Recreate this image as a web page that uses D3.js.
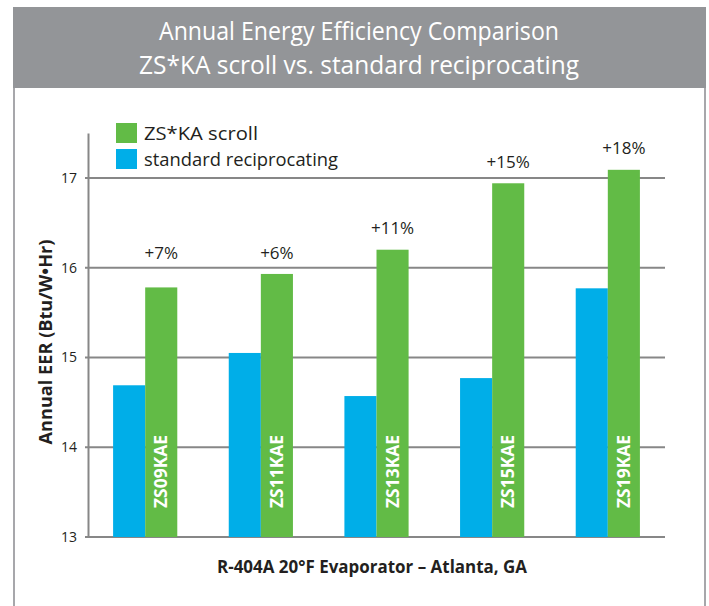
<!DOCTYPE html>
<html>
<head>
<meta charset="utf-8">
<script src="https://cdn.jsdelivr.net/npm/d3@7"></script>
<style>
  body { margin: 0; background: #fff; }
  svg { display: block; font-family: "Open Sans", "Noto Sans", sans-serif; }
</style>
</head>
<body>
<div id="chart"></div>
<script>
// Data
const models = ["ZS09KAE", "ZS11KAE", "ZS13KAE", "ZS15KAE", "ZS19KAE"];
const scrollEER = [15.78, 15.93, 16.2, 16.94, 17.09];
const recipEER = [14.69, 15.05, 14.57, 14.77, 15.77];
const gainLabels = ["+7%", "+6%", "+11%", "+15%", "+18%"];
const labelEER = [16.1, 16.1, 16.38, 17.11, 17.27]; // where the % labels sit
const yTicks = [13, 14, 15, 16, 17];

const width = 709;
const height = 606;
const plot = { left: 88, right: 665, top: 133, bottom: 537 };

const green = "#62bb46";
const blue = "#00aee8";
const grid = "#878787";

const svg = d3
  .select("#chart")
  .append("svg")
  .attr("width", width)
  .attr("height", height);

// Frame and header
svg.append("rect")
  .attr("x", 14).attr("y", 8).attr("width", 691).attr("height", 620)
  .attr("fill", "none").attr("stroke", "#a7a7ab").attr("stroke-width", 2);
svg.append("rect")
  .attr("x", 13).attr("y", 7).attr("width", 693).attr("height", 81)
  .attr("fill", "#939598");

const titles = [
  { text: "Annual Energy Efficiency Comparison", y: 40, len: 400 },
  { text: "ZS*KA scroll vs. standard reciprocating", y: 74, len: 440 },
];
svg.selectAll(".title")
  .data(titles)
  .enter()
  .append("text")
  .attr("class", "title")
  .attr("x", 359)
  .attr("y", (d) => d.y)
  .attr("text-anchor", "middle")
  .attr("fill", "#fff")
  .attr("font-size", "26px")
  .attr("textLength", (d) => d.len)
  .attr("lengthAdjust", "spacingAndGlyphs")
  .text((d) => d.text);

// Scales
const x = d3
  .scaleBand()
  .domain(models)
  .range([plot.left, plot.right])
  .paddingInner(0.445)
  .paddingOuter(0.217);

const sub = d3
  .scaleBand()
  .domain(["recip", "scroll"])
  .range([0, x.bandwidth()]);

const y = d3
  .scaleLinear()
  .domain([13, 17.5])
  .range([plot.bottom, plot.top]);

// Gridlines
svg.append("g")
  .selectAll("line")
  .data(yTicks)
  .enter()
  .append("line")
  .attr("x1", plot.left - 3)
  .attr("x2", plot.right)
  .attr("y1", (d) => y(d))
  .attr("y2", (d) => y(d))
  .attr("stroke", grid)
  .attr("stroke-width", 2);

// Y axis
const yAxis = svg.append("g")
  .attr("transform", `translate(${plot.left},0)`)
  .call(d3.axisLeft(y).tickValues(yTicks).tickFormat(d3.format("d")).tickSize(0).tickPadding(11));
yAxis.select(".domain").attr("stroke", grid).attr("stroke-width", 2);
yAxis.selectAll("text")
  .attr("font-family", "'Open Sans', sans-serif")
  .attr("font-size", "14px")
  .attr("fill", "#231f20");

// Bars
const groups = svg.append("g")
  .selectAll("g")
  .data(models)
  .enter()
  .append("g")
  .attr("transform", (d) => `translate(${x(d)},0)`);

groups.append("rect")
  .attr("x", sub("recip"))
  .attr("y", (d, i) => y(recipEER[i]))
  .attr("width", sub.bandwidth())
  .attr("height", (d, i) => y(13) - y(recipEER[i]))
  .attr("fill", blue);

groups.append("rect")
  .attr("x", sub("scroll"))
  .attr("y", (d, i) => y(scrollEER[i]))
  .attr("width", sub.bandwidth())
  .attr("height", (d, i) => y(13) - y(scrollEER[i]))
  .attr("fill", green);

// Model names inside the green bars
groups.append("text")
  .attr("transform", (d) =>
    `translate(${sub("scroll") + sub.bandwidth() / 2 + 6},${y(13) - 29}) rotate(-90)`)
  .attr("fill", "#fff")
  .attr("font-weight", "bold")
  .attr("font-size", "17px")
  .attr("textLength", 73)
  .attr("lengthAdjust", "spacingAndGlyphs")
  .text((d) => d);

// Percent gain labels
groups.append("text")
  .attr("x", sub("scroll") + sub.bandwidth() / 2)
  .attr("y", (d, i) => y(labelEER[i]))
  .attr("text-anchor", "middle")
  .attr("fill", "#231f20")
  .attr("font-size", "17px")
  .text((d, i) => gainLabels[i]);

// Legend
const legend = [
  { label: "ZS*KA scroll", color: green },
  { label: "standard reciprocating", color: blue },
];
const lg = svg.append("g")
  .selectAll("g")
  .data(legend)
  .enter()
  .append("g")
  .attr("transform", (d, i) => `translate(116,${123 + i * 26})`);
lg.append("rect").attr("width", 21).attr("height", 20).attr("fill", (d) => d.color);
lg.append("text")
  .attr("x", 28)
  .attr("y", 17)
  .attr("fill", "#231f20")
  .attr("font-size", "19px")
  .attr("textLength", (d, i) => [114, 194][i])
  .attr("lengthAdjust", "spacingAndGlyphs")
  .text((d) => d.label);

// Axis titles
svg.append("text")
  .attr("transform", "translate(52,342) rotate(-90)")
  .attr("text-anchor", "middle")
  .attr("font-weight", "bold")
  .attr("font-size", "17px")
  .attr("fill", "#231f20")
  .attr("textLength", 205)
  .attr("lengthAdjust", "spacingAndGlyphs")
  .text("Annual EER (Btu/W\u2022Hr)");

svg.append("text")
  .attr("x", 372)
  .attr("y", 573)
  .attr("text-anchor", "middle")
  .attr("font-weight", "bold")
  .attr("font-size", "18px")
  .attr("fill", "#231f20")
  .attr("textLength", 310)
  .attr("lengthAdjust", "spacingAndGlyphs")
  .text("R-404A 20\u00b0F Evaporator \u2013 Atlanta, GA");
</script>
</body>
</html>
